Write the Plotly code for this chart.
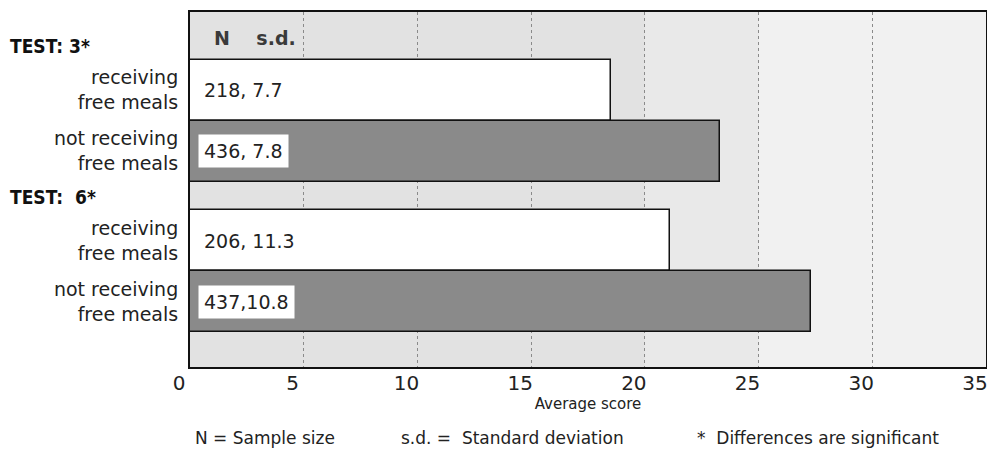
import plotly.graph_objects as go

# ---------------- data ----------------
tests = ["TEST: 3*", "TEST:  6*"]
groups = ["receiving<br>free meals", "not receiving<br>free meals"]
scores_test3 = [18.5, 23.3]
scores_test6 = [21.1, 27.3]
labels_test3 = ["218, 7.7", "436, 7.8"]
labels_test6 = ["206, 11.3", "437,10.8"]
x_ticks = [0, 5, 10, 15, 20, 25, 30, 35]
x_title = "Average score"
footnotes = ["N = Sample size", "s.d. =  Standard deviation", "*  Differences are significant"]

# ---------------- layout helpers ----------------
group_start = [0.0, 2.47]
series = [scores_test3, scores_test6]
bar_labels = [labels_test3, labels_test6]

y_pos, vals, texts, ticktext, fills = [], [], [], [], []
for gi, g0 in enumerate(group_start):
    for ri in range(2):
        y_pos.append(g0 + 1.28 + ri)
        vals.append(series[gi][ri])
        texts.append(bar_labels[gi][ri])
        ticktext.append(groups[ri])
        fills.append("#ffffff" if ri == 0 else "#8a8a8a")

BODY = "DejaVu Sans, Liberation Sans, Arial, sans-serif"
BOLD_NARROW = "Liberation Sans Narrow, DejaVu Sans Condensed, Arial Narrow, sans-serif"

fig = go.Figure()
fig.add_trace(go.Bar(
    x=vals, y=y_pos, orientation="h", width=1.0,
    marker=dict(color=fills, line=dict(color="#111111", width=1.5)),
    hoverinfo="x",
    showlegend=False,
))

shapes = [
    dict(type="rect", xref="x", yref="paper", x0=0, x1=20, y0=0, y1=1,
         fillcolor="#e2e2e2", line=dict(width=0), layer="below"),
    dict(type="rect", xref="x", yref="paper", x0=20, x1=25, y0=0, y1=1,
         fillcolor="#e9e9e9", line=dict(width=0), layer="below"),
    dict(type="rect", xref="x", yref="paper", x0=25, x1=35, y0=0, y1=1,
         fillcolor="#f1f1f1", line=dict(width=0), layer="below"),
]

annotations = []
# header
annotations.append(dict(x=0, y=0.42, xref="x", yref="y", xanchor="left", yanchor="middle",
                        xshift=22, showarrow=False, text="<b>N    s.d.</b>",
                        font=dict(family=BODY, size=19, color="#3a3a3a")))
# test labels
for gi, g0 in enumerate(group_start):
    annotations.append(dict(x=-0.229, y=g0 + 0.56, xref="paper", yref="y", xanchor="left",
                            yanchor="middle", showarrow=False,
                            text="<b>" + tests[gi] + "</b>",
                            font=dict(family=BOLD_NARROW, size=19, color="#111111")))
# bar value labels
for i, (yy, t) in enumerate(zip(y_pos, texts)):
    dark = (i % 2 == 1)
    annotations.append(dict(x=0, y=yy, xref="x", yref="y", xanchor="left", yanchor="middle",
                            xshift=8 if dark else 13, showarrow=False, text=t,
                            bgcolor="#ffffff" if dark else "rgba(0,0,0,0)",
                            borderpad=5 if dark else 0,
                            font=dict(family=BODY, size=19, color="#222222")))
# footnotes
foot_x = [0.004, 0.263, 0.635]
for fx, ft in zip(foot_x, footnotes):
    annotations.append(dict(x=fx, y=-0.2, xref="paper", yref="paper", xanchor="left",
                            yanchor="middle", showarrow=False, text=ft,
                            font=dict(family=BODY, size=17, color="#222222")))

fig.update_layout(
    width=979, height=444,
    margin=dict(l=182, r=1, t=4, b=85),
    paper_bgcolor="#ffffff",
    plot_bgcolor="#e6e6e6",
    bargap=0,
    shapes=shapes,
    annotations=annotations,
    xaxis=dict(
        range=[0, 35], tickvals=x_ticks, ticktext=[str(v) for v in x_ticks],
        showgrid=True, gridcolor="#8a8a8a", griddash="dot", gridwidth=1,
        zeroline=False, showline=True, linecolor="#111111", linewidth=2, mirror=True,
        ticks="", ticklabeloverflow="allow", automargin=False, ticklabelshift=-11,
        ticklabelstandoff=-3,
        tickfont=dict(family=BODY, size=20, color="#222222"),
        title=dict(text=x_title, standoff=0, font=dict(family=BODY, size=15, color="#222222")),
    ),
    yaxis=dict(
        range=[5.82, 0], tickvals=y_pos, ticktext=ticktext, automargin=False,
        showgrid=False, zeroline=False, showline=True, linecolor="#111111", linewidth=2,
        mirror=True, ticks="", ticklabelstandoff=6,
        tickfont=dict(family=BODY, size=19, color="#222222"),
    ),
)

fig.write_html("out.html")
